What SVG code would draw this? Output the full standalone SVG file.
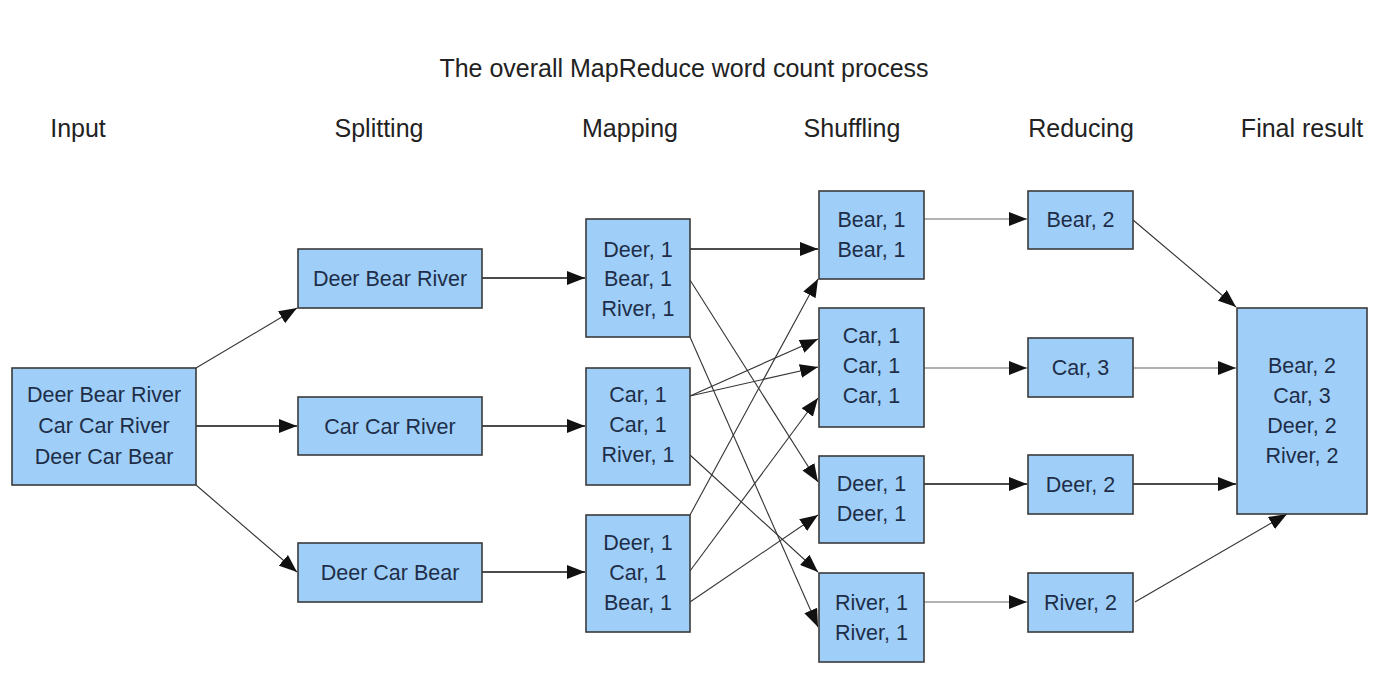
<svg xmlns="http://www.w3.org/2000/svg" width="1382" height="697" viewBox="0 0 1382 697">
<defs>
<marker id="ah" markerUnits="userSpaceOnUse" markerWidth="20" markerHeight="14" refX="18" refY="7" orient="auto" viewBox="0 0 20 14">
<path d="M0,0 L18,7 L0,14 Z" fill="#111"/>
</marker>
<style>
.box{fill:#9fcff9;stroke:#3a3a3a;stroke-width:1.6}
.t{font-family:"Liberation Sans",Arial,sans-serif;font-size:21.5px;fill:#1e2e48;text-anchor:middle}
.h{font-family:"Liberation Sans",Arial,sans-serif;font-size:25px;fill:#222;text-anchor:middle}
.c{fill:none;stroke:#111;stroke-width:1.6;marker-end:url(#ah)}
.c2{fill:none;stroke:#333;stroke-width:1.1;marker-end:url(#ah)}
.c3{fill:none;stroke:#666;stroke-width:1.1;marker-end:url(#ah)}
</style>
</defs>
<rect width="1382" height="697" fill="#fff"/>
<g id="headers">
<text class="h" x="684" y="77">The overall MapReduce word count process</text>
<text class="h" x="78" y="137">Input</text>
<text class="h" x="379" y="137">Splitting</text>
<text class="h" x="630" y="137">Mapping</text>
<text class="h" x="852" y="137">Shuffling</text>
<text class="h" x="1081" y="137">Reducing</text>
<text class="h" x="1302" y="137">Final result</text>
</g>
<g id="connectors">
<line class="c2" x1="196" y1="368" x2="297" y2="308"/>
<line class="c" x1="196" y1="426" x2="297" y2="426"/>
<line class="c2" x1="196" y1="485" x2="297" y2="572"/>
<line class="c" x1="482" y1="278" x2="585" y2="278"/>
<line class="c" x1="482" y1="426" x2="585" y2="426"/>
<line class="c" x1="482" y1="572" x2="585" y2="572"/>
<line class="c" x1="690" y1="249" x2="818" y2="249"/>
<line class="c2" x1="690" y1="280" x2="818" y2="482"/>
<line class="c2" x1="690" y1="337" x2="818" y2="627"/>
<line class="c2" x1="690" y1="396" x2="818" y2="339"/>
<line class="c2" x1="690" y1="396" x2="818" y2="367"/>
<line class="c2" x1="690" y1="455" x2="818" y2="572"/>
<line class="c2" x1="690" y1="515" x2="818" y2="279"/>
<line class="c2" x1="690" y1="571" x2="818" y2="398"/>
<line class="c2" x1="690" y1="602" x2="818" y2="515"/>
<line class="c3" x1="924" y1="219" x2="1027" y2="219"/>
<line class="c3" x1="924" y1="368" x2="1027" y2="368"/>
<line class="c" x1="924" y1="484" x2="1027" y2="484"/>
<line class="c3" x1="924" y1="602" x2="1027" y2="602"/>
<line class="c2" x1="1133" y1="220" x2="1236" y2="307"/>
<line class="c3" x1="1133" y1="368" x2="1236" y2="368"/>
<line class="c" x1="1133" y1="484" x2="1236" y2="484"/>
<line class="c2" x1="1135" y1="602" x2="1287" y2="514"/>
</g>
<g id="input">
<rect class="box" x="12" y="368" width="184" height="117"/>
<text class="t" x="104" y="401.5">Deer Bear River</text>
<text class="t" x="104" y="432.5">Car Car River</text>
<text class="t" x="104" y="463.5">Deer Car Bear</text>
</g>
<g id="split1">
<rect class="box" x="298" y="249" width="184" height="59"/>
<text class="t" x="390" y="285.5">Deer Bear River</text>
</g>
<g id="split2">
<rect class="box" x="298" y="397" width="184" height="58"/>
<text class="t" x="390" y="433.5">Car Car River</text>
</g>
<g id="split3">
<rect class="box" x="298" y="543" width="184" height="59"/>
<text class="t" x="390" y="579.5">Deer Car Bear</text>
</g>
<g id="map1">
<rect class="box" x="586" y="219" width="104" height="118"/>
<text class="t" x="638" y="256.5">Deer, 1</text>
<text class="t" x="638" y="286">Bear, 1</text>
<text class="t" x="638" y="315.5">River, 1</text>
</g>
<g id="map2">
<rect class="box" x="586" y="368" width="104" height="117"/>
<text class="t" x="638" y="401.5">Car, 1</text>
<text class="t" x="638" y="431.5">Car, 1</text>
<text class="t" x="638" y="461.5">River, 1</text>
</g>
<g id="map3">
<rect class="box" x="586" y="515" width="104" height="117"/>
<text class="t" x="638" y="549.5">Deer, 1</text>
<text class="t" x="638" y="579.5">Car, 1</text>
<text class="t" x="638" y="609.5">Bear, 1</text>
</g>
<g id="shuffle1">
<rect class="box" x="819" y="191" width="105" height="88"/>
<text class="t" x="871.5" y="226.5">Bear, 1</text>
<text class="t" x="871.5" y="256.5">Bear, 1</text>
</g>
<g id="shuffle2">
<rect class="box" x="819" y="308" width="105" height="119"/>
<text class="t" x="871.5" y="343">Car, 1</text>
<text class="t" x="871.5" y="373">Car, 1</text>
<text class="t" x="871.5" y="403">Car, 1</text>
</g>
<g id="shuffle3">
<rect class="box" x="819" y="456" width="105" height="87"/>
<text class="t" x="871.5" y="490.5">Deer, 1</text>
<text class="t" x="871.5" y="520.5">Deer, 1</text>
</g>
<g id="shuffle4">
<rect class="box" x="819" y="573" width="105" height="89"/>
<text class="t" x="871.5" y="609.5">River, 1</text>
<text class="t" x="871.5" y="639.5">River, 1</text>
</g>
<g id="reduce1">
<rect class="box" x="1028" y="191" width="105" height="58"/>
<text class="t" x="1080.5" y="227">Bear, 2</text>
</g>
<g id="reduce2">
<rect class="box" x="1028" y="338" width="105" height="59"/>
<text class="t" x="1080.5" y="375">Car, 3</text>
</g>
<g id="reduce3">
<rect class="box" x="1028" y="455" width="105" height="59"/>
<text class="t" x="1080.5" y="491.5">Deer, 2</text>
</g>
<g id="reduce4">
<rect class="box" x="1028" y="573" width="105" height="59"/>
<text class="t" x="1080.5" y="609.5">River, 2</text>
</g>
<g id="final">
<rect class="box" x="1237" y="308" width="130" height="206"/>
<text class="t" x="1302" y="372.5">Bear, 2</text>
<text class="t" x="1302" y="402.5">Car, 3</text>
<text class="t" x="1302" y="432.5">Deer, 2</text>
<text class="t" x="1302" y="462.5">River, 2</text>
</g>
</svg>
